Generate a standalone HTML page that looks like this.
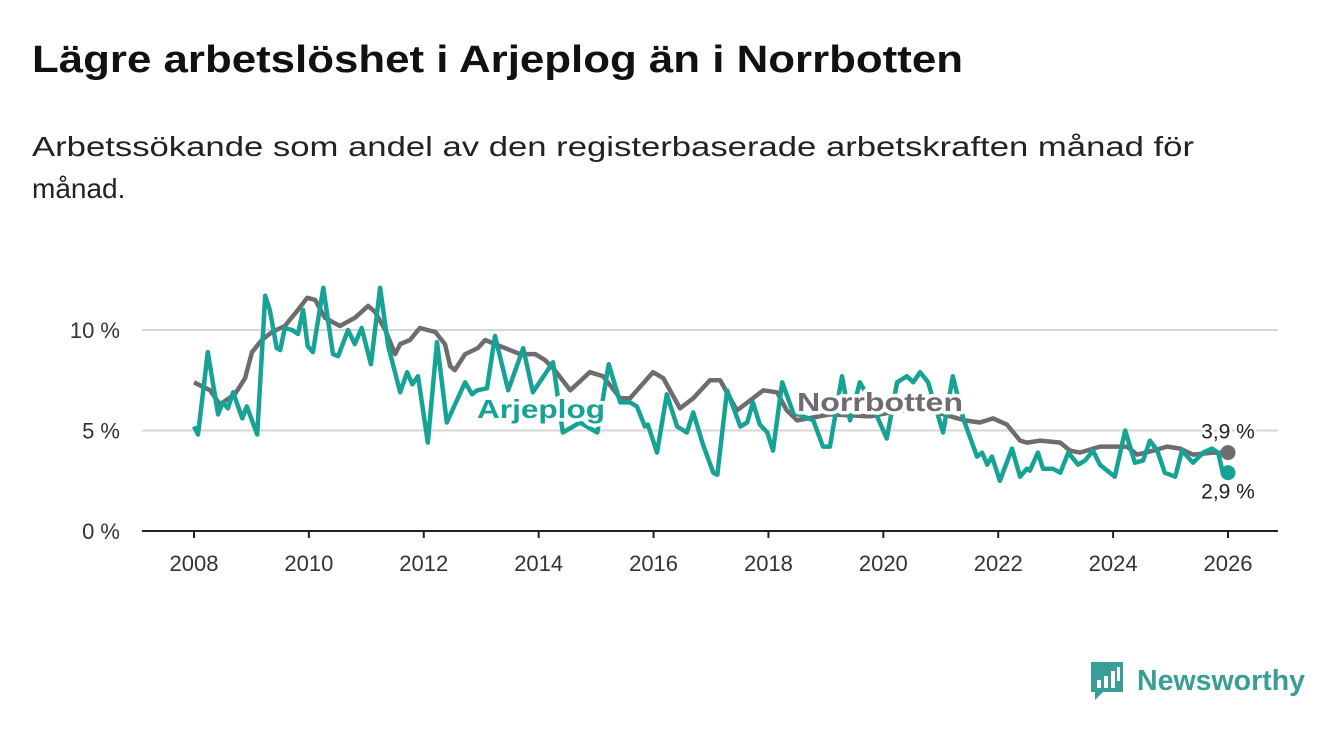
<!DOCTYPE html>
<html><head><meta charset="utf-8"><style>
html,body{margin:0;padding:0;background:#fff;}
svg{display:block;font-family:"Liberation Sans","DejaVu Sans",sans-serif;}
</style></head><body>
<svg id="chart" width="1340" height="734" viewBox="0 0 1340 734">
<text x="32" y="72" font-size="38" font-weight="bold" fill="#111" textLength="931" lengthAdjust="spacingAndGlyphs">Lägre arbetslöshet i Arjeplog än i Norrbotten</text>
<text x="32" y="156" font-size="28" fill="#222" textLength="1162" lengthAdjust="spacingAndGlyphs">Arbetssökande som andel av den registerbaserade arbetskraften månad för</text>
<text x="32" y="198" font-size="28" fill="#222">månad.</text>
<g id="grid"></g><g id="series"></g><g id="labels"></g>
<g>
<path d="M1091 662 h32 v30 h-20 l-8 8 v-8 h-4 z" fill="#3a9e98"/>
<rect x="1097" y="680" width="4" height="8" fill="#fff"/><rect x="1104" y="676" width="4" height="12" fill="#fff"/><rect x="1111" y="671" width="4" height="17" fill="#fff"/><rect x="1117" y="667" width="3" height="14" fill="#fff"/>
<text x="1137" y="690" font-size="29" font-weight="bold" fill="#3a9e98" textLength="168" lengthAdjust="spacingAndGlyphs">Newsworthy</text>
</g>
</svg>
<script>
const norrDates=[2008.00,2008.28,2008.45,2008.71,2008.89,2009.01,2009.18,2009.36,2009.58,2009.81,2009.97,2010.11,2010.28,2010.54,2010.80,2011.03,2011.15,2011.33,2011.50,2011.59,2011.76,2011.93,2012.20,2012.37,2012.46,2012.54,2012.72,2012.94,2013.07,2013.24,2013.50,2013.68,2013.94,2014.11,2014.28,2014.55,2014.89,2015.12,2015.42,2015.59,2015.99,2016.17,2016.46,2016.69,2016.98,2017.16,2017.45,2017.73,2017.91,2018.15,2018.32,2018.50,2019.07,2019.77,2020.29,2020.81,2021.42,2021.68,2021.91,2022.15,2022.38,2022.50,2022.73,2023.08,2023.25,2023.42,2023.77,2024.24,2024.42,2024.70,2024.94,2025.17,2025.39,2025.74,2026.00];
const norrValues=[7.4,7.0,6.3,6.8,7.6,8.9,9.5,9.9,10.2,11.0,11.6,11.5,10.6,10.2,10.6,11.2,10.9,10.0,8.8,9.3,9.5,10.1,9.9,9.3,8.2,8.0,8.8,9.1,9.5,9.3,9.0,8.8,8.8,8.5,8.0,7.0,7.9,7.7,6.6,6.6,7.9,7.6,6.1,6.6,7.5,7.5,6.0,6.6,7.0,6.9,6.0,5.5,5.8,5.7,6.0,6.0,5.5,5.4,5.6,5.3,4.5,4.4,4.5,4.4,4.0,3.9,4.2,4.2,3.8,4.0,4.2,4.1,3.8,3.9,3.9];
const arjDates=[2008.00,2008.07,2008.24,2008.42,2008.50,2008.59,2008.68,2008.84,2008.92,2009.10,2009.24,2009.32,2009.44,2009.50,2009.58,2009.71,2009.81,2009.90,2009.98,2010.07,2010.25,2010.42,2010.51,2010.68,2010.80,2010.92,2011.08,2011.24,2011.38,2011.59,2011.71,2011.80,2011.90,2012.07,2012.23,2012.40,2012.72,2012.84,2012.93,2013.10,2013.24,2013.47,2013.73,2013.90,2014.25,2014.42,2014.72,2015.02,2015.22,2015.42,2015.59,2015.71,2015.85,2015.90,2016.06,2016.23,2016.41,2016.58,2016.69,2016.86,2017.04,2017.11,2017.28,2017.51,2017.63,2017.73,2017.85,2017.98,2018.08,2018.24,2018.43,2018.78,2018.95,2019.07,2019.28,2019.42,2019.59,2019.77,2020.06,2020.24,2020.41,2020.52,2020.64,2020.78,2021.04,2021.21,2021.39,2021.63,2021.72,2021.81,2021.89,2022.03,2022.24,2022.38,2022.50,2022.55,2022.69,2022.78,2022.95,2023.08,2023.22,2023.39,2023.51,2023.65,2023.77,2024.03,2024.21,2024.38,2024.52,2024.64,2024.77,2024.90,2025.08,2025.20,2025.39,2025.57,2025.72,2025.83,2025.91,2026.00];
const arjValues=[5.2,4.8,8.9,5.8,6.4,6.1,6.9,5.6,6.2,4.8,11.7,11.0,9.1,9.0,10.1,10.0,9.8,11.0,9.2,8.9,12.1,8.8,8.7,10.0,9.3,10.1,8.3,12.1,9.2,6.9,7.9,7.3,7.7,4.4,9.4,5.4,7.4,6.8,7.0,7.1,9.7,7.0,9.1,6.9,8.4,4.9,5.4,4.9,8.3,6.4,6.4,6.2,5.2,5.3,3.9,6.8,5.2,4.9,5.9,4.3,2.9,2.8,7.0,5.2,5.4,6.4,5.3,4.9,4.0,7.4,5.9,5.5,4.2,4.2,7.7,5.5,7.4,6.5,4.6,7.4,7.7,7.4,7.9,7.4,4.9,7.7,5.6,3.7,3.9,3.3,3.7,2.5,4.1,2.7,3.1,3.0,3.9,3.1,3.1,2.9,3.9,3.3,3.5,4.0,3.3,2.7,5.0,3.4,3.5,4.5,4.0,2.9,2.7,4.0,3.4,3.9,4.1,3.9,2.9,2.9];
const xTicks=[2008,2010,2012,2014,2016,2018,2020,2022,2024,2026];
const yTicks=[0,5,10];
const yTickLabels=["0 %","5 %","10 %"];
const NS="http://www.w3.org/2000/svg";
const xS=v=>194+(v-2008)*(1034/18);
const yS=v=>531-v*20.1;
function mk(tag,attrs,parent,txt){const e=document.createElementNS(NS,tag);for(const k in attrs)e.setAttribute(k,attrs[k]);if(txt!==undefined)e.textContent=txt;parent.appendChild(e);return e;}
const grid=document.getElementById('grid'),ser=document.getElementById('series'),lab=document.getElementById('labels');
yTicks.forEach((t,i)=>{
  if(t>0){const g=mk('line',{x1:142,x2:1278,y1:yS(t),y2:yS(t),stroke:'#d6d6d6','stroke-width':2},grid);
  
  }
  const tl=mk('text',{x:120,y:yS(t)+8,'text-anchor':'end','font-size':22,fill:'#333'},grid,yTickLabels[i]);
  
  
});
const ax=mk('line',{x1:142,x2:1278,y1:531,y2:531,stroke:'#222','stroke-width':2},grid);


xTicks.forEach(t=>{
  const tk=mk('line',{x1:xS(t),x2:xS(t),y1:531,y2:538,stroke:'#222','stroke-width':2},grid);
  
  
  const tl=mk('text',{x:xS(t),y:571,'text-anchor':'middle','font-size':22,fill:'#333'},grid,String(t));
  
  
});
function path(d,v){return d.map((x,i)=>(i?'L':'M')+xS(x).toFixed(1)+' '+yS(v[i]).toFixed(1)).join(' ');}
const gl=mk('path',{d:path(norrDates,norrValues),fill:'none',stroke:'#6f6c70','stroke-width':4.5,'stroke-linejoin':'round'},ser);


const tl2=mk('path',{d:path(arjDates,arjValues),fill:'none',stroke:'#17a296','stroke-width':4.5,'stroke-linejoin':'round'},ser);


const nl=norrDates.length-1,al=arjDates.length-1;
const d1=mk('circle',{cx:xS(norrDates[nl]),cy:yS(norrValues[nl]),r:7.5,fill:'#6f6c70'},ser);


const d2=mk('circle',{cx:xS(arjDates[al]),cy:yS(arjValues[al]),r:7.5,fill:'#17a296'},ser);


const l1=mk('text',{x:xS(norrDates[nl]),y:yS(norrValues[nl])-14,'text-anchor':'middle','font-size':21,fill:'#222',stroke:'#fff','stroke-width':5,'paint-order':'stroke'},lab,norrValues[nl].toFixed(1).replace('.',',')+' %');


const l2=mk('text',{x:xS(arjDates[al]),y:yS(arjValues[al])+26,'text-anchor':'middle','font-size':21,fill:'#222',stroke:'#fff','stroke-width':5,'paint-order':'stroke'},lab,arjValues[al].toFixed(1).replace('.',',')+' %');


const s1=mk('text',{x:541,y:418,'text-anchor':'middle','font-size':26,'font-weight':'bold',fill:'#17a296',stroke:'#fff','stroke-width':7,'paint-order':'stroke','stroke-linejoin':'round',textLength:128,lengthAdjust:'spacingAndGlyphs'},lab,'Arjeplog');


const s2=mk('text',{x:880,y:411,'text-anchor':'middle','font-size':26,'font-weight':'bold',fill:'#6f6c70',stroke:'#fff','stroke-width':7,'paint-order':'stroke','stroke-linejoin':'round',textLength:166,lengthAdjust:'spacingAndGlyphs'},lab,'Norrbotten');


</script>
</body></html>
